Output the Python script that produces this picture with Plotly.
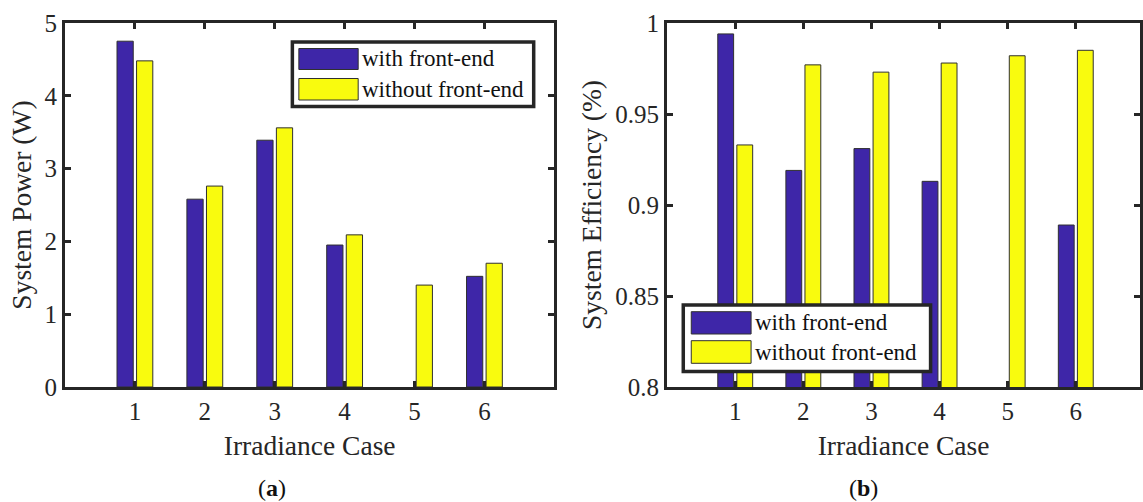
import plotly.graph_objects as go

# ---------------- data ----------------
cases = [1, 2, 3, 4, 5, 6]
power_with = [4.75, 2.58, 3.39, 1.95, None, 1.52]
power_without = [4.48, 2.76, 3.56, 2.09, 1.40, 1.70]
eff_with = [0.994, 0.919, 0.931, 0.913, None, 0.889]
eff_without = [0.933, 0.977, 0.973, 0.978, 0.982, 0.985]
series_names = ["with front-end", "without front-end"]
power_ticks = [0, 1, 2, 3, 4, 5]
eff_ticks = [0.8, 0.85, 0.9, 0.95, 1.0]
eff_tick_labels = ["0.8", "0.85", "0.9", "0.95", "1"]
subplot_labels = ["(<b>a</b>)", "(<b>b</b>)"]

# ---------------- style ----------------
W, H = 1143, 502
ML, MR, MT, MB = 65, 0, 23, 115
BLUE = "#3E26A8"
YELLOW = "#F9FB0E"
INK = "#262626"
FONT = "Liberation Serif"
PW = W - ML - MR
PH = H - MT - MB
TITLE_SIZE = 27.5
TICK_SIZE = 25


def px_x(x):
    return (x - ML) / PW


def px_y(y):
    return (H - MB - y) / PH


fig = go.Figure()
colors = [BLUE, YELLOW]
for vals, name, col in zip([power_with, power_without], series_names, colors):
    fig.add_trace(go.Bar(x=cases, y=vals, name=name, marker=dict(color=col, line=dict(color="#303030", width=1)),
                         xaxis="x", yaxis="y", showlegend=False))
for vals, name, col in zip([eff_with, eff_without], series_names, colors):
    fig.add_trace(go.Bar(x=cases, y=vals, name=name, marker=dict(color=col, line=dict(color="#303030", width=1)),
                         xaxis="x2", yaxis="y2", showlegend=False))

axis_common = dict(showline=True, linecolor=INK, linewidth=3, mirror="ticks", ticks="inside",
                   ticklen=6, tickwidth=2.5, tickcolor=INK, showgrid=False, zeroline=False,
                   tickfont=dict(family=FONT, size=TICK_SIZE, color=INK))

left_dom = [0, px_x(555.7)]
right_dom = [px_x(668.8), 1.0]
right_span = (W - 668.8) / 68.3

title_font = dict(family=FONT, size=TITLE_SIZE, color=INK)

fig.update_layout(
    width=W, height=H,
    margin=dict(l=ML, r=MR, t=MT, b=MB),
    paper_bgcolor="white", plot_bgcolor="white",
    barmode="group", bargap=0.44, bargroupgap=0.17,
    font=dict(family=FONT, color=INK),
    xaxis=dict(domain=left_dom, range=[0, 7], tickvals=cases, anchor="y",
               title=dict(text="Irradiance Case", font=title_font, standoff=12),
               **axis_common),
    yaxis=dict(domain=[0, 1], range=[0, 5], tickvals=power_ticks, anchor="x",
               title=dict(text="System Power (W)", font=title_font, standoff=5),
               **axis_common),
    xaxis2=dict(domain=right_dom, range=[0, right_span], tickvals=cases, anchor="y2",
                title=dict(text="Irradiance Case", font=title_font, standoff=12),
                **axis_common),
    yaxis2=dict(domain=[0, 1], range=[0.8, 1.0], tickvals=eff_ticks, ticktext=eff_tick_labels, anchor="x2",
                title=dict(text="System Efficiency (%)", font=title_font, standoff=6),
                **axis_common),
)

# ---------------- legends (drawn boxes) ----------------
def add_legend(box, patch_x, rows, text_x):
    x0, x1, y0, y1 = box
    fig.add_shape(type="rect", xref="paper", yref="paper",
                  x0=px_x(x0), x1=px_x(x1), y0=px_y(y1), y1=px_y(y0),
                  line=dict(color=INK, width=3.5), fillcolor="white", layer="above")
    for (ry0, ry1), name, col in zip(rows, series_names, colors):
        fig.add_shape(type="rect", xref="paper", yref="paper",
                      x0=px_x(patch_x[0]), x1=px_x(patch_x[1]), y0=px_y(ry1), y1=px_y(ry0),
                      line=dict(color="#303030", width=1), fillcolor=col, layer="above")
        fig.add_annotation(xref="paper", yref="paper", x=px_x(text_x), y=px_y((ry0 + ry1) / 2),
                           text=name, showarrow=False, xanchor="left", yanchor="middle",
                           font=dict(family=FONT, size=23, color="#111111"))


add_legend((293, 535, 42, 106.5), (299.5, 359), [(48.5, 69.5), (78.5, 100)], 361)
add_legend((685, 933, 305, 371.5), (693, 753), [(311.7, 334), (340.7, 363.3)], 755)

for lab, xp in zip(subplot_labels, [272.5, 866]):
    fig.add_annotation(xref="paper", yref="paper", x=px_x(xp), y=px_y(488), text=lab, showarrow=False,
                       xanchor="center", yanchor="middle", font=dict(family=FONT, size=24, color="#111111"))

fig.write_html("out.html")
